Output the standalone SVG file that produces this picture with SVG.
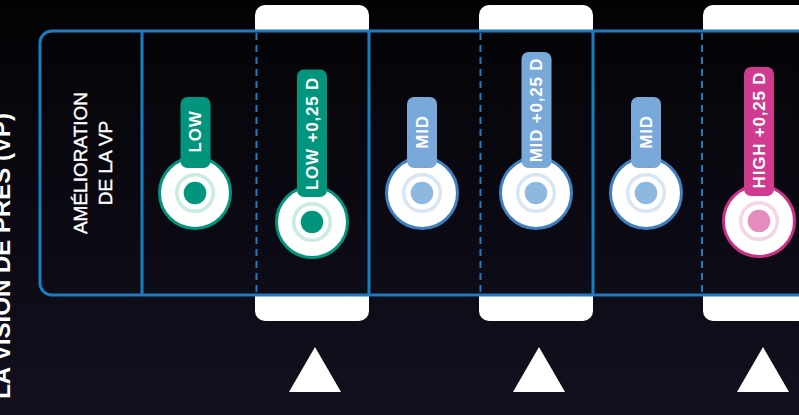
<svg xmlns="http://www.w3.org/2000/svg" width="799" height="415" viewBox="0 0 799 415">
  <defs>
    <linearGradient id="bg" x1="0" y1="0" x2="0" y2="1">
      <stop offset="0" stop-color="#030305"/>
      <stop offset="1" stop-color="#12101f"/>
    </linearGradient>
    <style>
      .panel { fill: none; stroke: #1b7cc3; stroke-width: 3; }
      .solid { stroke: #1b7cc3; stroke-width: 3; }
      .dash { stroke: #1b7cc3; stroke-width: 2; stroke-dasharray: 7 5; }
      .tab { fill: #ffffff; }
      .tri { fill: #ffffff; }
      .title { font-family: "Liberation Sans", Arial, sans-serif; font-weight: bold; font-size: 24px; fill: #ffffff; }
      .head { font-family: "Liberation Sans", Arial, sans-serif; font-size: 19px; fill: #ffffff; stroke: #ffffff; stroke-width: 0.4px; }
      .lbl { font-family: "Liberation Sans", Arial, sans-serif; font-weight: bold; font-size: 17px; fill: #ffffff; letter-spacing: 0.8px; }
      .ring { fill: #ffffff; stroke-width: 3; }
      .inner { fill: none; stroke-width: 3.5; }
      .low .ring { stroke: #00957c; }
      .low .tag, .low .dot { fill: #00957c; }
      .low .inner { stroke: #c9ece3; }
      .mid .ring { stroke: #3d7fc1; }
      .mid .tag { fill: #79a9d9; }
      .mid .dot { fill: #8fb8e0; }
      .mid .inner { stroke: #d8e6f4; }
      .high .ring { stroke: #cc2f86; }
      .high .tag { fill: #d03b8f; }
      .high .dot { fill: #e58bbd; }
      .high .inner { stroke: #f5d5e7; }
    </style>
  </defs>

  <rect x="0" y="0" width="799" height="415" fill="url(#bg)"/>

  <text class="title" text-anchor="end" transform="translate(10,113) rotate(-90)">LA VISION DE PRÈS (VP)</text>

  <!-- white tabs -->
  <g id="tabs">
    <path class="tab" d="M255 31 V15 A10 10 0 0 1 265 5 H359 A10 10 0 0 1 369 15 V31 Z"/>
    <path class="tab" d="M255 295 V311 A10 10 0 0 0 265 321 H359 A10 10 0 0 0 369 311 V295 Z"/>
    <path class="tab" d="M479 31 V15 A10 10 0 0 1 489 5 H583 A10 10 0 0 1 593 15 V31 Z"/>
    <path class="tab" d="M479 295 V311 A10 10 0 0 0 489 321 H583 A10 10 0 0 0 593 311 V295 Z"/>
    <path class="tab" d="M703 31 V15 A10 10 0 0 1 713 5 H807 A10 10 0 0 1 817 15 V31 Z"/>
    <path class="tab" d="M703 295 V311 A10 10 0 0 0 713 321 H807 A10 10 0 0 0 817 311 V295 Z"/>
  </g>

  <!-- panel and dividers -->
  <g id="connectors">
    <path class="panel" d="M810 31 H52 A12 12 0 0 0 40 43 V283 A12 12 0 0 0 52 295 H810"/>
    <line class="solid" x1="142" y1="31" x2="142" y2="295"/>
    <line class="solid" x1="369" y1="31" x2="369" y2="295"/>
    <line class="solid" x1="593" y1="31" x2="593" y2="295"/>
    <line class="dash" x1="256.5" y1="33" x2="256.5" y2="294"/>
    <line class="dash" x1="480.5" y1="33" x2="480.5" y2="294"/>
    <line class="dash" x1="702" y1="33" x2="702" y2="294"/>
  </g>

  <g id="header">
    <text class="head" text-anchor="middle" transform="translate(87,163) rotate(-90)">AMÉLIORATION</text>
    <text class="head" text-anchor="middle" transform="translate(112,163) rotate(-90)">DE LA VP</text>
  </g>

  <g id="pin-low" class="low">
    <circle class="ring" cx="195" cy="193" r="35.5"/>
    <rect class="tag" x="180.5" y="97" width="30" height="71" rx="7"/>
    <circle class="inner" cx="195" cy="193" r="18.3"/>
    <circle class="dot" cx="195" cy="193" r="11.3"/>
    <text class="lbl" text-anchor="middle" transform="translate(195,131.5) rotate(-90)" y="6">LOW</text>
  </g>

  <g id="pin-low-plus" class="low">
    <circle class="ring" cx="312" cy="222" r="35.5"/>
    <rect class="tag" x="297" y="69.5" width="30" height="127.5" rx="7"/>
    <circle class="inner" cx="312" cy="222" r="18.3"/>
    <circle class="dot" cx="312" cy="222" r="11.3"/>
    <text class="lbl" text-anchor="middle" transform="translate(312,133.5) rotate(-90)" y="6">LOW +0,25 D</text>
  </g>

  <g id="pin-mid-1" class="mid">
    <circle class="ring" cx="422" cy="193" r="35.5"/>
    <rect class="tag" x="407" y="97" width="30" height="71" rx="7"/>
    <circle class="inner" cx="422" cy="193" r="18.3"/>
    <circle class="dot" cx="422" cy="193" r="11.3"/>
    <text class="lbl" text-anchor="middle" transform="translate(422,132) rotate(-90)" y="6">MID</text>
  </g>

  <g id="pin-mid-plus" class="mid">
    <circle class="ring" cx="536" cy="193" r="35.5"/>
    <rect class="tag" x="521.5" y="52" width="30" height="116" rx="7"/>
    <circle class="inner" cx="536" cy="193" r="18.3"/>
    <circle class="dot" cx="536" cy="193" r="11.3"/>
    <text class="lbl" text-anchor="middle" transform="translate(536,110) rotate(-90)" y="6">MID +0,25 D</text>
  </g>

  <g id="pin-mid-2" class="mid">
    <circle class="ring" cx="646" cy="193" r="35.5"/>
    <rect class="tag" x="631" y="97" width="30" height="71" rx="7"/>
    <circle class="inner" cx="646" cy="193" r="18.3"/>
    <circle class="dot" cx="646" cy="193" r="11.3"/>
    <text class="lbl" text-anchor="middle" transform="translate(646,132) rotate(-90)" y="6">MID</text>
  </g>

  <g id="pin-high-plus" class="high">
    <circle class="ring" cx="759" cy="221" r="35.5"/>
    <rect class="tag" x="744" y="67" width="30" height="129" rx="7"/>
    <circle class="inner" cx="759" cy="221" r="18.3"/>
    <circle class="dot" cx="759" cy="221" r="11.3"/>
    <text class="lbl" text-anchor="middle" transform="translate(759,130) rotate(-90)" y="6">HIGH +0,25 D</text>
  </g>

  <g id="arrows">
    <polygon class="tri" points="315,347 289,392 341,392"/>
    <polygon class="tri" points="539,347 513,392 565,392"/>
    <polygon class="tri" points="763,347 737,392 789,392"/>
  </g>
</svg>
